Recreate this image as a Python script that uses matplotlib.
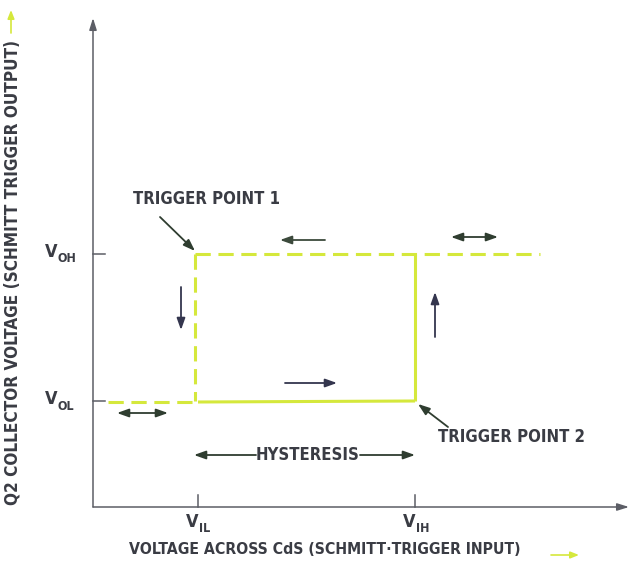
import matplotlib.pyplot as plt

plt.rcParams['font.family'] = ['DejaVu Sans']
plt.rcParams['font.stretch'] = 'condensed'
plt.rcParams['font.weight'] = 'bold'

# switching levels (units along the axes)
input_ticks = [105, 322]          # V_IL, V_IH
input_labels = ['IL', 'IH']
output_ticks = [106, 253]         # V_OL, V_OH
output_labels = ['OL', 'OH']

# transfer curve pieces: (x list, y list, dashed?)
v_il, v_ih = input_ticks
v_ol, v_oh = output_ticks
curve = [
    ([15, v_il], [v_ol - 1, v_ol - 1], True),
    ([v_il, v_ih], [v_ol - 1, v_ol], False),
    ([v_ih, v_ih], [v_ol, v_oh], False),
    ([v_il - 3, 447], [v_oh, v_oh], True),
    ([v_il - 3, v_il - 3], [v_oh, v_ol], True),
]

# direction arrows: (start, end, double-headed?, colour)
dir_arrows = [
    ((232, 267), (187, 267), False, '#3c4a3c'),
    ((358, 270), (405, 270), True, '#2f3d30'),
    ((88, 220), (88, 177), False, '#34364e'),
    ((342, 170), (342, 215), False, '#34364e'),
    ((192, 124), (244, 124), False, '#34364e'),
    ((24, 94), (75, 94), True, '#2f3d30'),
]

curve_color = '#d5e83c'
text_color = '#3a3c44'
axis_color = '#5c5e66'
arrow_head = ',head_length=0.7,head_width=0.25'

fig = plt.figure(figsize=(6.3, 5.65), dpi=100)
ax = fig.add_axes([0, 0, 1, 1])
ax.set_xlim(-93, 537)
ax.set_ylim(-58, 507)
ax.axis('off')

# axes with arrow heads
ax.annotate('', xy=(0, 489), xytext=(0, 0),
            arrowprops=dict(arrowstyle='-|>,head_length=0.7,head_width=0.22',
                            color=axis_color, lw=1.1, shrinkA=0, shrinkB=0))
ax.annotate('', xy=(536, 0), xytext=(0, 0),
            arrowprops=dict(arrowstyle='-|>,head_length=0.7,head_width=0.22',
                            color=axis_color, lw=1.1, shrinkA=0, shrinkB=0))

# tick marks and labels
for y, lab in zip(output_ticks, output_labels):
    ax.plot([0, 12], [y, y], color=axis_color, lw=1.1)
    ax.text(-42, y + 2, 'V', fontsize=13, color=text_color, ha='center', va='center')
    ax.text(-36, y - 5, lab, fontsize=9, color=text_color, ha='left', va='center')
for x, lab in zip(input_ticks, input_labels):
    ax.plot([x, x], [0, 12], color=axis_color, lw=1.1)
    ax.text(x - 6, -15, 'V', fontsize=13, color=text_color, ha='center', va='center')
    ax.text(x + 1, -21, lab, fontsize=9, color=text_color, ha='left', va='center')

# hysteresis loop
for xs, ys, dashed in curve:
    ax.plot(xs, ys, color=curve_color, lw=2.2,
            linestyle=(0, (5, 2.5)) if dashed else '-', solid_capstyle='butt')

for start, end, double, col in dir_arrows:
    style = '<|-|>' if double else '-|>'
    ax.annotate('', xy=end, xytext=start,
                arrowprops=dict(arrowstyle=style + arrow_head,
                                color=col, lw=1.3, shrinkA=0, shrinkB=0))

# hysteresis width
ax.annotate('', xy=(v_il - 4, 52), xytext=(163, 52),
            arrowprops=dict(arrowstyle='-|>' + arrow_head,
                            color='#2f3d30', lw=1.3, shrinkA=0, shrinkB=0))
ax.annotate('', xy=(v_ih, 52), xytext=(267, 52),
            arrowprops=dict(arrowstyle='-|>' + arrow_head,
                            color='#2f3d30', lw=1.3, shrinkA=0, shrinkB=0))
ax.text(215, 52, 'HYSTERESIS', fontsize=12, color=text_color, ha='center', va='center')

# trigger point callouts
ax.text(40, 308, 'TRIGGER POINT 1', fontsize=12, color=text_color, ha='left', va='center')
ax.annotate('', xy=(v_il - 3, v_oh + 3), xytext=(67, 290),
            arrowprops=dict(arrowstyle='-|>' + arrow_head,
                            color='#2f3d30', lw=1.3, shrinkA=0, shrinkB=0))
ax.text(345, 70, 'TRIGGER POINT 2', fontsize=12, color=text_color, ha='left', va='center')
ax.annotate('', xy=(v_ih + 3, v_ol - 3), xytext=(355, 80),
            arrowprops=dict(arrowstyle='-|>' + arrow_head,
                            color='#2f3d30', lw=1.3, shrinkA=0, shrinkB=0))

# axis titles
ax.text(232, -42, 'VOLTAGE ACROSS CdS (SCHMITT\u00b7TRIGGER INPUT)', fontsize=11.3,
        color=text_color, ha='center', va='center')
ax.annotate('', xy=(486, -48), xytext=(458, -48),
            arrowprops=dict(arrowstyle='-|>,head_length=0.5,head_width=0.2',
                            color=curve_color, lw=1.2, shrinkA=0, shrinkB=0))
ax.text(-80, 235, 'Q2 COLLECTOR VOLTAGE (SCHMITT TRIGGER OUTPUT)', fontsize=12.3,
        color=text_color, ha='center', va='center', rotation=90)
ax.annotate('', xy=(-82, 497), xytext=(-82, 474),
            arrowprops=dict(arrowstyle='-|>,head_length=0.5,head_width=0.2',
                            color=curve_color, lw=1.2, shrinkA=0, shrinkB=0))

fig.savefig('out.png', dpi=100)
